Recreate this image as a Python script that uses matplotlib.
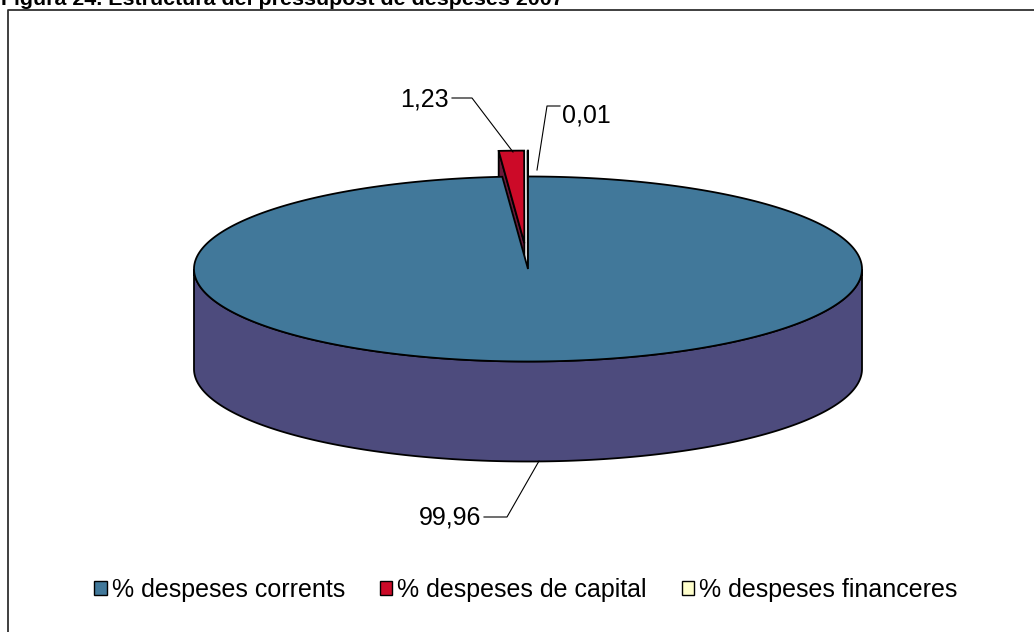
import numpy as np
import matplotlib
matplotlib.use("Agg")
import matplotlib.pyplot as plt
from matplotlib.patches import Polygon, Patch

plt.rcParams['font.family'] = ['Liberation Sans', 'DejaVu Sans']

title = "Figura 24. Estructura del pressupost de despeses 2007"
categories = ["% despeses corrents", "% despeses de capital", "% despeses financeres"]
values = [99.96, 1.23, 0.01]
top_colors = ["#41789A", "#CC0A28", "#FFFFCC"]
side_colors = ["#4D4B7D", "#6A1A3A", "#B0B08A"]
explode = [0.0, 0.28, 0.28]

W, H = 1034, 632
fig = plt.figure(figsize=(W / 100, H / 100), dpi=100)
ax = fig.add_axes([0, 0, 1, 1])
ax.set_xlim(0, W)
ax.set_ylim(H, 0)
ax.axis('off')

# frame
ax.plot([8, 8, W + 5], [H + 5, 10, 10], color="#303030", lw=1.3, solid_capstyle='butt')

# title (cut at top, as in reference)
ax.text(1, 5, title, fontsize=15.4, fontweight='bold', va='baseline', ha='left')

cx, cy, a, b, depth = 528, 269, 334, 92.5, 100


def pt(theta_deg, dx=0.0, dy=0.0, r=1.0):
    t = np.radians(theta_deg)
    return cx + dx + r * a * np.cos(t), cy + dy - r * b * np.sin(t)


def arc(t0, t1, dx=0.0, dy=0.0, n=400):
    ts = np.linspace(t0, t1, n)
    x, y = pt(ts, dx, dy)
    return np.column_stack([x, y])


fr = np.array(values) / np.sum(values)
angles = 90 - 360 * np.concatenate([[0], np.cumsum(fr)])
lw = 1.3

# exploded small slices first (they are at the back)
for i in [1, 2]:
    t_start, t_end = angles[i], angles[i + 1]   # clockwise: t_start > t_end
    mid = (t_start + t_end) / 2
    dx = explode[i] * a * np.cos(np.radians(mid))
    dy = -explode[i] * b * np.sin(np.radians(mid))
    apex = np.array([cx + dx, cy + dy])
    outer = np.array(pt(t_start, dx, dy))
    wall = np.array([apex, outer, outer + [0, depth], apex + [0, depth]])
    ax.add_patch(Polygon(wall, closed=True, facecolor=side_colors[i], edgecolor='black', lw=lw))
    top = np.vstack([apex, arc(t_start, t_end, dx, dy, 50)])
    ax.add_patch(Polygon(top, closed=True, facecolor=top_colors[i], edgecolor='black', lw=lw))

# big slice: front side wall
front_top = arc(180, 360)
front_bot = arc(360, 180, 0, depth)
ax.add_patch(Polygon(np.vstack([front_top, front_bot]), closed=True,
                     facecolor=side_colors[0], edgecolor='black', lw=lw))
# big slice: top face
top0 = np.vstack([[cx, cy], arc(angles[0], angles[1], 0, 0, 800)])
ax.add_patch(Polygon(top0, closed=True, facecolor=top_colors[0], edgecolor='black', lw=lw))


def fmt(v):
    return f"{v:.2f}".replace('.', ',')


lab_fs = 18
# label 1,23
ax.text(449, 100, fmt(values[1]), fontsize=lab_fs, ha='right', va='center')
ax.plot([452, 472, 513], [98, 98, 152], color='black', lw=0.8)
# label 0,01
ax.text(562, 115, fmt(values[2]), fontsize=lab_fs, ha='left', va='center')
ax.plot([537, 547, 560], [170, 106, 106], color='black', lw=0.8)
# label 99,96
ax.text(481, 517, fmt(values[0]), fontsize=lab_fs, ha='right', va='center')
ax.plot([484, 507, 539], [517, 517, 461], color='black', lw=0.8)

handles = [Patch(facecolor=c, edgecolor='black', lw=1) for c in top_colors]
fig.legend(handles, categories, loc='center', bbox_to_anchor=(526 / W, 1 - 590 / H),
           ncol=3, frameon=False, fontsize=18, handlelength=0.5, handleheight=0.5,
           handletextpad=0.2, columnspacing=1.4, borderpad=0, borderaxespad=0)

fig.savefig("out.png", dpi=100)
